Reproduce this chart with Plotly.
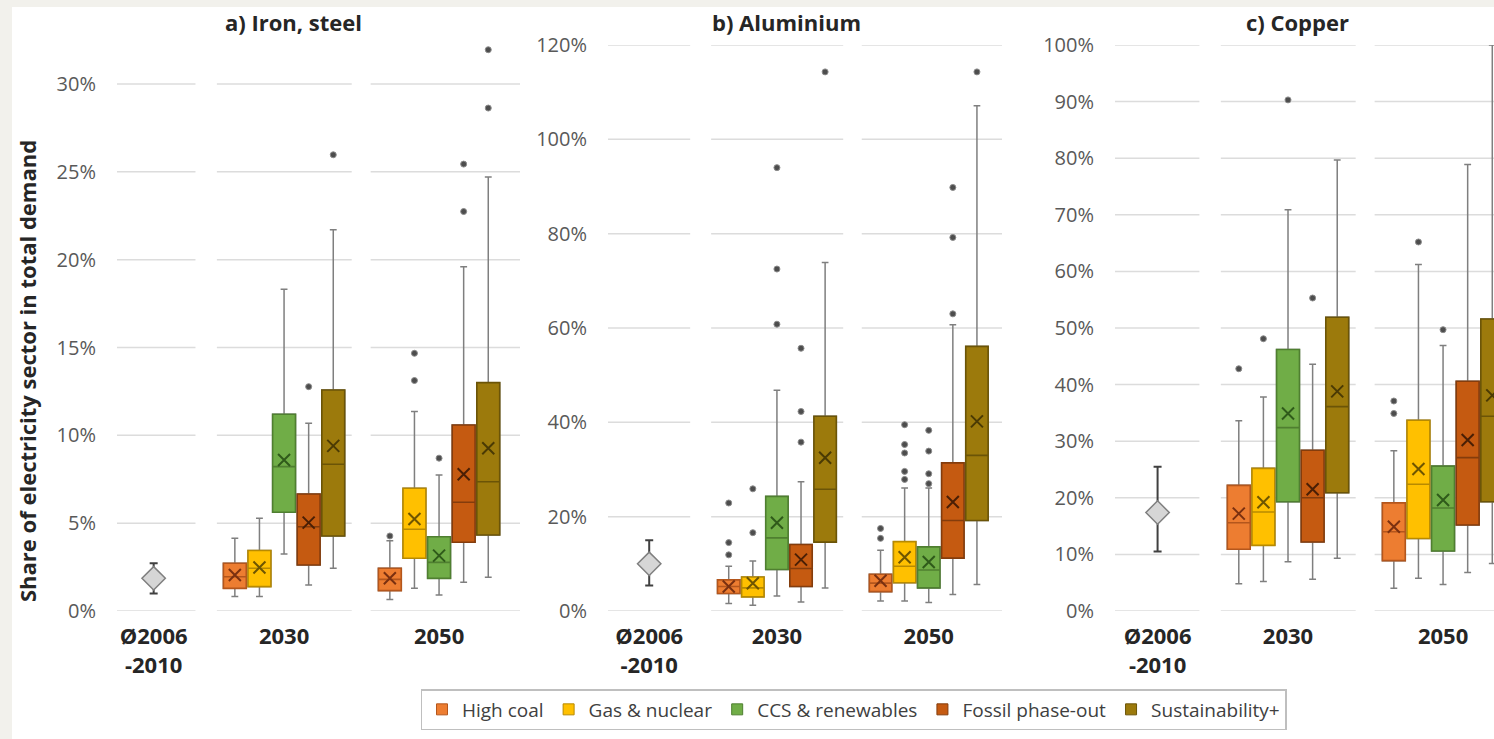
import plotly.graph_objects as go

# ---------------------------------------------------------------- data
SCENARIOS = ["High coal", "Gas & nuclear", "CCS & renewables",
             "Fossil phase-out", "Sustainability+"]
PERIODS = ["Ø2006<br>-2010", "2030", "2050"]

# Box statistics in percent, one row per scenario:
# [lower whisker, Q1, median, Q3, upper whisker, mean]
steel_2030 = [
    [0.82, 1.29, 1.95, 2.72, 4.14, 2.05],
    [0.82, 1.39, 2.43, 3.44, 5.28, 2.48],
    [3.25, 5.62, 8.22, 11.20, 18.32, 8.60],
    [1.48, 2.62, 4.80, 6.66, 10.69, 5.03],
    [2.43, 4.27, 8.35, 12.58, 21.70, 9.40],
]
steel_2050 = [
    [0.66, 1.16, 1.80, 2.43, 4.00, 1.86],
    [1.29, 3.00, 4.65, 6.99, 11.35, 5.24],
    [0.91, 1.86, 2.77, 4.23, 7.74, 3.15],
    [1.63, 3.91, 6.19, 10.59, 19.60, 7.78],
    [1.92, 4.33, 7.36, 13.00, 24.70, 9.26],
]
steel_outliers_2030 = [[], [], [], [12.77], [25.97]]
steel_outliers_2050 = [[4.27], [14.67, 13.12], [8.70], [25.44, 22.74], [31.95, 28.63]]
steel_base = [1.86, 1.00, 2.72]          # mean, min, max 2006-2010
steel_ticks = [0, 5, 10, 15, 20, 25, 30]

aluminium_2030 = [
    [1.6, 3.7, 5.2, 6.6, 9.5, 5.2],
    [1.2, 3.0, 4.9, 7.2, 10.6, 5.9],
    [3.2, 8.8, 15.5, 24.3, 46.8, 18.7],
    [1.9, 5.2, 9.0, 14.1, 27.4, 10.9],
    [4.9, 14.6, 25.8, 41.3, 73.9, 32.5],
]
aluminium_2050 = [
    [2.1, 4.1, 5.9, 7.8, 12.9, 6.4],
    [2.1, 6.0, 9.5, 14.7, 26.1, 11.4],
    [1.8, 4.9, 8.7, 13.6, 26.1, 10.4],
    [3.5, 11.2, 19.2, 31.4, 60.7, 23.1],
    [5.6, 19.2, 33.0, 56.1, 107.1, 40.2],
]
aluminium_outliers_2030 = [[22.9, 14.5, 11.9], [25.9, 16.6], [94.0, 72.5, 60.8],
                           [55.7, 42.3, 35.8], [114.3]]
aluminium_outliers_2050 = [[17.5, 15.4], [39.5, 35.3, 33.5, 29.6, 27.9],
                           [38.3, 33.9, 29.1, 27.0], [89.8, 79.2, 63.0], [114.3]]
aluminium_base = [10.0, 5.4, 15.0]
aluminium_ticks = [0, 20, 40, 60, 80, 100, 120]

copper_2030 = [
    [4.8, 10.9, 15.6, 22.2, 33.6, 17.2],
    [5.2, 11.6, 17.5, 25.2, 37.8, 19.2],
    [8.7, 19.3, 32.4, 46.2, 70.9, 34.9],
    [5.6, 12.2, 20.0, 28.4, 43.6, 21.5],
    [9.3, 20.9, 36.1, 51.9, 79.7, 38.8],
]
copper_2050 = [
    [4.0, 8.9, 14.0, 19.1, 28.3, 14.9],
    [5.8, 12.8, 22.4, 33.7, 61.2, 25.1],
    [4.7, 10.6, 18.2, 25.6, 46.9, 19.6],
    [6.8, 15.2, 27.1, 40.6, 78.9, 30.2],
    [8.4, 19.3, 34.4, 51.6, 100.0, 38.1],
]
copper_outliers_2030 = [[42.8], [48.1], [90.3], [55.3], []]
copper_outliers_2050 = [[37.1, 34.9], [65.2], [49.7], [], []]
copper_base = [17.4, 10.5, 25.5]
copper_ticks = [0, 10, 20, 30, 40, 50, 60, 70, 80, 90, 100]

# ---------------------------------------------------------------- styling
FILLS = ["#ED7D31", "#FFC000", "#70AD47", "#C55A11", "#9C7A0C"]
BORDERS = ["#B4561C", "#B88A00", "#4F7F30", "#843C0C", "#6B5407"]
MEAN_COLORS = ["#7A3010", "#6E5500", "#2F5A1A", "#4A1F05", "#4A3A04"]
WHISKER = "#7F7F7F"
GRID = "#DCDCDC"
FONT = "Open Sans"

W, H = 1494, 739
PLOT_TOP, PLOT_BOTTOM = 45, 611           # px
X_PIX = [(117, 520), (608, 1002), (1115, 1494)]
X_RANGES = [(0.21, 16.59), (-0.01, 16.34), (-0.03, 15.37)]
GROUP_X = [1.7, 7.0, 13.3]                 # centres of the three periods
OFFSETS = [-2, -1, 0, 1, 2]                # scenario slots within a period
BOX_W = 0.93
ZONES = [(None, 3.4), (4.27, 9.75), (10.52, None)]   # gridline segments

panels = [
    dict(title="a) Iron, steel", stats=(steel_2030, steel_2050),
         outliers=(steel_outliers_2030, steel_outliers_2050),
         base=steel_base, ticks=steel_ticks, ymax=32.22),
    dict(title="b) Aluminium", stats=(aluminium_2030, aluminium_2050),
         outliers=(aluminium_outliers_2030, aluminium_outliers_2050),
         base=aluminium_base, ticks=aluminium_ticks, ymax=120),
    dict(title="c) Copper", stats=(copper_2030, copper_2050),
         outliers=(copper_outliers_2030, copper_outliers_2050),
         base=copper_base, ticks=copper_ticks, ymax=100),
]

fig = go.Figure()
shapes = [dict(type="rect", xref="paper", yref="paper", x0=12 / W, x1=1,
               y0=0, y1=1 - 7 / H, fillcolor="white", line_width=0,
               layer="below")]
annotations = []
layout_axes = {}

for p, panel in enumerate(panels):
    suffix = "" if p == 0 else str(p + 1)
    xa, ya = "x" + suffix, "y" + suffix
    x0, x1 = X_RANGES[p]

    for j, name in enumerate(SCENARIOS):
        pos = [GROUP_X[1] + OFFSETS[j], GROUP_X[2] + OFFSETS[j]]
        rows = [panel["stats"][0][j], panel["stats"][1][j]]
        lo = [r[0] for r in rows]
        q1 = [r[1] for r in rows]
        med = [r[2] for r in rows]
        q3 = [r[3] for r in rows]
        hi = [r[4] for r in rows]
        mean = [r[5] for r in rows]

        # whiskers (grey)
        fig.add_trace(go.Box(
            x=pos, lowerfence=lo, q1=q1, median=med, q3=q3, upperfence=hi,
            width=BOX_W, whiskerwidth=0.3, fillcolor=FILLS[j],
            line=dict(color=WHISKER, width=1.5), boxpoints=False,
            showlegend=False, hoverinfo="skip", xaxis=xa, yaxis=ya))
        # box body with coloured outline and median
        fig.add_trace(go.Box(
            x=pos, lowerfence=q1, q1=q1, median=med, q3=q3, upperfence=q3,
            width=BOX_W, whiskerwidth=0, fillcolor=FILLS[j],
            line=dict(color=BORDERS[j], width=1.6), boxpoints=False,
            showlegend=False, xaxis=xa, yaxis=ya))
        # means
        fig.add_trace(go.Scatter(
            x=pos, y=mean, mode="markers", showlegend=False,
            marker=dict(symbol="x-thin", size=12,
                        line=dict(width=2, color=MEAN_COLORS[j])),
            xaxis=xa, yaxis=ya))
        # outliers
        ox, oy = [], []
        for k in range(2):
            for v in panel["outliers"][k][j]:
                ox.append(pos[k])
                oy.append(v)
        if ox:
            fig.add_trace(go.Scatter(
                x=ox, y=oy, mode="markers", showlegend=False,
                marker=dict(size=6, color="#4D4D4D",
                            line=dict(width=1, color="#8C8C8C")),
                xaxis=xa, yaxis=ya))

    # 2006-2010 average with range
    mean_b, min_b, max_b = panel["base"]
    fig.add_trace(go.Scatter(
        x=[GROUP_X[0]], y=[mean_b], mode="markers", showlegend=False,
        error_y=dict(type="data", symmetric=False, array=[max_b - mean_b],
                     arrayminus=[mean_b - min_b], color="#404040",
                     thickness=2, width=4),
        marker=dict(symbol="diamond", size=18, color="#D6D6D6",
                    line=dict(color="#7F7F7F", width=1.5)),
        xaxis=xa, yaxis=ya))

    # broken horizontal gridlines, one segment per period
    for t in panel["ticks"]:
        for za, zb in ZONES:
            shapes.append(dict(
                type="line", xref=xa, yref=ya,
                x0=x0 if za is None else za, x1=x1 if zb is None else zb,
                y0=t, y1=t, line=dict(color=GRID, width=1.5), layer="below"))

    dom_x = [X_PIX[p][0] / W, X_PIX[p][1] / W]
    dom_y = [1 - PLOT_BOTTOM / H, 1 - PLOT_TOP / H]
    layout_axes["xaxis" + suffix] = dict(
        domain=dom_x, range=[x0, x1], anchor=ya, showgrid=False,
        zeroline=False, showline=False, ticks="", automargin=False,
        tickvals=GROUP_X, ticktext=["<b>%s</b>" % t for t in PERIODS],
        tickfont=dict(family=FONT, size=22, color="#262626"),
        ticklabelstandoff=10, fixedrange=True)
    layout_axes["yaxis" + suffix] = dict(
        domain=dom_y, range=[0, panel["ymax"]], anchor=xa, showgrid=False,
        zeroline=False, showline=False, ticks="", automargin=False,
        tickvals=panel["ticks"], ticktext=["%d%%" % t for t in panel["ticks"]],
        tickfont=dict(family=FONT, size=20, color="#595959"),
        ticklabelstandoff=20, fixedrange=True)

    annotations.append(dict(
        xref=xa, yref="paper", x=7.4, y=1 - 22 / H, text="<b>%s</b>" % panel["title"],
        showarrow=False, xanchor="center", yanchor="middle",
        font=dict(family=FONT, size=22, color="#262626")))

annotations.append(dict(
    xref="paper", yref="paper", x=27 / W, y=1 - 371 / H, textangle=-90,
    text="<b>Share of electricity sector in total demand</b>", showarrow=False,
    xanchor="center", yanchor="middle",
    font=dict(family=FONT, size=22, color="#262626")))

# legend entries
for j, name in enumerate(SCENARIOS):
    fig.add_trace(go.Scatter(
        x=[None], y=[None], mode="markers", name=name,
        marker=dict(symbol="square", size=11, color=FILLS[j],
                    line=dict(width=1, color=BORDERS[j]))))

fig.update_layout(
    width=W, height=H, autosize=False,
    margin=dict(l=0, r=0, t=0, b=0, autoexpand=False),
    paper_bgcolor="#F2F1EC", plot_bgcolor="rgba(0,0,0,0)",
    boxmode="overlay", font=dict(family=FONT),
    shapes=shapes, annotations=annotations,
    legend=dict(orientation="h", x=853.5 / W, xanchor="center",
                y=1 - 689 / H, yanchor="top", bgcolor="white",
                bordercolor="#BFBFBF", borderwidth=1.5,
                font=dict(family=FONT, size=19, color="#404040"),
                itemwidth=30),
    **layout_axes,
)

fig.write_html("out.html")
